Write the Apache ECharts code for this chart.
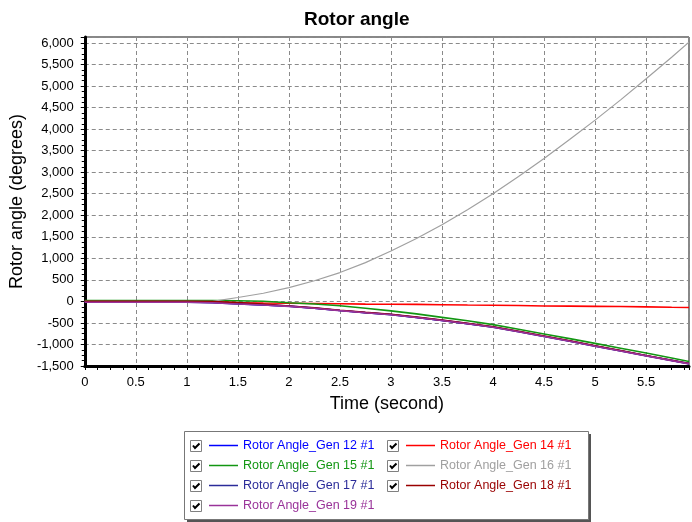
<!DOCTYPE html>
<html>
<head>
<meta charset="utf-8">
<script src="https://cdn.jsdelivr.net/npm/echarts@6/dist/echarts.min.js"></script>
<style>
html,body{margin:0;padding:0;background:#fff;}
#chart{width:692px;height:522px;}
</style>
</head>
<body>
<div id="chart"></div>
<script>
// ---- data ----
const time = [0, 0.5, 1, 1.25, 1.5, 1.75, 2, 2.25, 2.5, 2.75, 3, 3.25, 3.5, 3.75, 4, 4.25, 4.5, 4.75, 5, 5.25, 5.5, 5.75, 5.92];
const gen12 = [-15, -15, -15, -25, -55, -80, -110, -155, -210, -260, -305, -370, -440, -515, -595, -700, -810, -920, -1035, -1145, -1260, -1370, -1445];
const gen14 = [0, 0, 0, -10, -30, -38, -42, -48, -55, -62, -66, -70, -78, -84, -88, -95, -105, -110, -115, -120, -126, -135, -140];
const gen15 = [20, 20, 20, 20, 15, 5, -30, -60, -100, -160, -220, -290, -370, -450, -540, -645, -755, -865, -975, -1088, -1200, -1315, -1395];
const gen16 = [0, 0, 0, 0, 90, 190, 320, 480, 670, 900, 1170, 1460, 1780, 2130, 2500, 2900, 3320, 3760, 4210, 4680, 5170, 5670, 6020];
const gen17 = [-20, -20, -20, -28, -58, -84, -114, -158, -212, -263, -308, -373, -443, -518, -598, -703, -813, -923, -1038, -1148, -1263, -1373, -1448];
const gen18 = [0, 0, 0, -5, -25, -60, -105, -150, -205, -255, -300, -365, -435, -510, -590, -695, -805, -915, -1030, -1140, -1255, -1365, -1440];
const gen19 = [-20, -20, -20, -30, -60, -85, -115, -160, -215, -265, -310, -375, -445, -520, -600, -705, -815, -925, -1040, -1150, -1265, -1375, -1450];
const seriesNames = ['Rotor Angle_Gen 12 #1', 'Rotor Angle_Gen 14 #1', 'Rotor Angle_Gen 15 #1', 'Rotor Angle_Gen 16 #1', 'Rotor Angle_Gen 17 #1', 'Rotor Angle_Gen 18 #1', 'Rotor Angle_Gen 19 #1'];
const seriesValues = [gen12, gen14, gen15, gen16, gen17, gen18, gen19];
const seriesColors = ['#0000FF', '#FF0000', '#129612', '#A0A0A0', '#2B2B99', '#990000', '#993399'];
const yTicks = [-1500, -1000, -500, 0, 500, 1000, 1500, 2000, 2500, 3000, 3500, 4000, 4500, 5000, 5500, 6000];
const xTicks = [0, 0.5, 1, 1.5, 2, 2.5, 3, 3.5, 4, 4.5, 5, 5.5];

const FONT = '"Liberation Sans", Arial, sans-serif';
const chart = echarts.init(document.getElementById('chart'));

const series = seriesNames.map((n, i) => ({
  name: n,
  type: 'line',
  data: time.map((t, j) => [t, seriesValues[i][j]]),
  color: seriesColors[i],
  symbol: 'none',
  smooth: false,
  lineStyle: { width: i === 3 ? 1.2 : 1.6, color: seriesColors[i] },
  animation: false
}));

// legend positions (two columns, row-major)
const colX = [209, 406];
const rowY = [439, 459, 479, 499];
const legends = seriesNames.map((n, i) => ({
  data: [{ name: n, textStyle: { color: seriesColors[i] } }],
  left: colX[i % 2],
  top: rowY[Math.floor(i / 2)],
  orient: 'horizontal',
  icon: 'rect',
  itemWidth: 29,
  itemHeight: 1.5,
  selectedMode: false,
  padding: 0,
  textStyle: { fontFamily: FONT, fontSize: 12.5, color: seriesColors[i] }
}));

const graphics = [
  { type: 'rect', shape: { x: 187, y: 434, width: 404, height: 88 }, style: { fill: '#555' }, z: 0 },
  { type: 'rect', shape: { x: 184.5, y: 431.5, width: 404, height: 88 }, style: { fill: '#fff', stroke: '#777', lineWidth: 1 }, z: 1 }
];
for (let i = 0; i < seriesNames.length; i++) {
  const bx = (i % 2 === 0) ? 190 : 387;
  const by = 440 + Math.floor(i / 2) * 20;
  graphics.push({ type: 'rect', shape: { x: bx + 0.5, y: by + 0.5, width: 11, height: 11 }, style: { fill: '#fff', stroke: '#808080', lineWidth: 1 }, z: 2 });
  graphics.push({ type: 'polyline', shape: { points: [[bx + 3, by + 5.5], [bx + 5, by + 8], [bx + 9.5, by + 3.5]] }, style: { stroke: '#000', lineWidth: 2, fill: null }, z: 3 });
}

chart.setOption({
  animation: false,
  backgroundColor: '#fff',
  title: {
    text: 'Rotor angle',
    left: 299,
    top: 5,
    textStyle: { fontFamily: FONT, fontSize: 19, fontWeight: 'bold', color: '#000' }
  },
  legend: legends,
  grid: {
    left: 84, right: 0, top: 37, bottom: 156,
    show: true, borderColor: '#111', borderWidth: 1, backgroundColor: '#fff'
  },
  xAxis: {
    type: 'value',
    min: 0, max: 5.92, interval: 0.5,
    name: 'Time (second)',
    nameLocation: 'middle',
    nameGap: 29,
    nameTextStyle: { fontFamily: FONT, fontSize: 18, color: '#000' },
    axisLine: { show: true, onZero: false, lineStyle: { color: '#000', width: 3 } },
    axisTick: { show: true, length: 4, lineStyle: { color: '#000' } },
    minorTick: { show: true, splitNumber: 4, length: 4, lineStyle: { color: '#000' } },
    axisLabel: {
      margin: 10, fontFamily: FONT, fontSize: 13, color: '#000',
      formatter: v => xTicks.some(t => Math.abs(t - v) < 1e-6) ? String(v) : ''
    },
    splitLine: { show: true, lineStyle: { color: '#8a8a8a', type: [4, 3], width: 1 } }
  },
  yAxis: {
    type: 'value',
    min: -1500, max: 6140, interval: 500,
    name: 'Rotor angle (degrees)',
    nameLocation: 'middle',
    nameGap: 47,
    nameTextStyle: { fontFamily: FONT, fontSize: 18, color: '#000' },
    axisLine: { show: true, onZero: false, lineStyle: { color: '#000', width: 3 } },
    axisTick: { show: true, length: 4, lineStyle: { color: '#000' } },
    minorTick: { show: true, splitNumber: 4, length: 3, lineStyle: { color: '#000' } },
    axisLabel: {
      margin: 11, fontFamily: FONT, fontSize: 13, color: '#000',
      formatter: v => yTicks.some(t => Math.abs(t - v) < 1e-6) ? v.toLocaleString('en-US') : ''
    },
    splitLine: { show: true, lineStyle: { color: '#8a8a8a', type: [4, 3], width: 1 } }
  },
  graphic: graphics,
  series: series
});
</script>
</body>
</html>
